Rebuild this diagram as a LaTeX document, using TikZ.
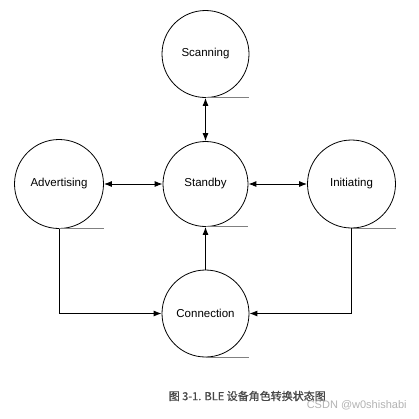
\documentclass[tikz,border=0pt]{standalone}
\usepackage{fontspec}
\setmainfont{Liberation Sans}
\newfontfamily\cjk[FakeBold=0.8]{Noto Sans CJK SC}
\usetikzlibrary{arrows.meta}
\begin{document}
\begin{tikzpicture}[x=1pt,y=-1pt,>={Latex[length=8pt,width=6pt]},line width=0.9pt,font=\fontsize{11.5}{13}\selectfont]
\useasboundingbox (0,0) rectangle (419,418);
\tikzset{state/.style={draw, circle, minimum size=87pt, inner sep=0pt, line width=0.8pt},
         tail/.style={draw, gray, line width=0.9pt}}
\node (scan) [state] at (205.5,54) {Scanning};
\node (stand) [state, minimum size=85pt] at (205.5,184) {Standby};
\node (adv) [state, minimum size=89pt] at (59,184) {Advertising};
\node (init) [state, minimum size=88pt] at (351.5,184) {Initiating};
\node (conn) [state] at (205.5,313.5) {Connection};
% tails under the circles
\path[tail] (scan.south) -- (scan.south -| scan.east);
\path[tail] (stand.south) -- (stand.south -| stand.east);
\path[tail] (adv.south) -- (adv.south -| adv.east);
\path[tail] (init.south) -- (init.south -| init.east);
\path[tail] (conn.south) -- (conn.south -| conn.east);
\path[<->]
(scan) edge (stand)
(adv) edge (stand)
(stand) edge (init);
\path[->]
(conn) edge (stand);
\draw[->] (adv.south) |- (conn.west);
\draw[->] (init.south) |- (conn.east);
\node (cap) [text=black!72, font=\cjk\fontsize{11}{13}\selectfont, anchor=west] at (165,396) {图 3-1. BLE 设备角色转换状态图};
\node (mark) [text=black!30, font=\fontsize{11}{13}\selectfont, anchor=west] at (303,405) {CSDN @w0shishabi};
\end{tikzpicture}
\end{document}
